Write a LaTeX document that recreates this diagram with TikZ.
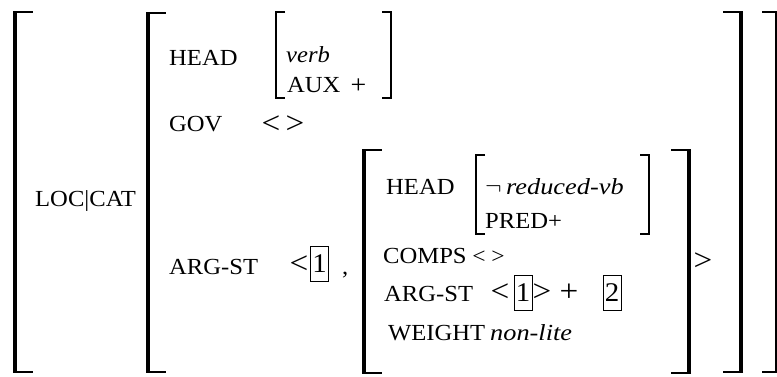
\documentclass[tikz,border=0pt]{standalone}
\usepackage{fontspec}
\setmainfont{Liberation Serif}[FakeStretch=1.07]
\usetikzlibrary{calc}

\tikzset{
	feat/.style={anchor=base west, inner sep=0pt, font=\fontsize{23}{27}\selectfont},
	angle/.style={anchor=center, inner sep=0pt, font=\fontsize{31}{31}\selectfont},
	smallangle/.style={anchor=center, inner sep=0pt, font=\fontsize{22}{22}\selectfont},
	tagbox/.style={draw, line width=1pt, minimum width=18pt, minimum height=35pt, inner sep=0pt, font=\fontsize{27}{30}\selectfont},
}

\begin{document}
\begin{tikzpicture}[x=1pt, y=-1pt]
		
		\useasboundingbox (0,0) rectangle (777,377);
		
		% big brackets: x / top / bottom / serif
		\foreach \x/\t/\b/\s in {15/12/372/18, 148/13/372/18, 364/150/373/18} {
			\draw[line width=4.5pt] (\x,\t) -- (\x,\b);
			\draw[line width=1.8pt] (\x-2,\t) -- (\x+\s,\t);
			\draw[line width=1.8pt] (\x-2,\b) -- (\x+\s,\b);
		}
		\foreach \x/\t/\b/\s in {741/12/372/18, 777/12/372/15, 689/150/373/18} {
			\draw[line width=4.5pt] (\x,\t) -- (\x,\b);
			\draw[line width=1.8pt] (\x+2,\t) -- (\x-\s,\t);
			\draw[line width=1.8pt] (\x+2,\b) -- (\x-\s,\b);
		}
		
		% small brackets
		\foreach \x/\t/\b in {276/12/98, 476/155/234} {
			\draw[line width=1.6pt, line join=miter] (\x+9,\t) -- (\x,\t) -- (\x,\b) -- (\x+9,\b);
		}
		\foreach \x/\t/\b in {391/12/98, 649/155/234} {
			\draw[line width=1.6pt, line join=miter] (\x-9,\t) -- (\x,\t) -- (\x,\b) -- (\x-9,\b);
		}
		
		\node (loccat) at (35,207) [feat] {LOC|CAT};
		
		\node (head) at (169,66) [feat] {HEAD};
		\node (verb) at (286,63) [feat] {\textit{verb}};
		\node (aux) at (287,93) [feat] {AUX};
		\node (auxval) at (358.5,86) [smallangle, font=\fontsize{26}{26}\selectfont] {+};
		
		\node (gov) at (169,132) [feat] {GOV};
		\node (govlt) at (271,125) [angle] {<};
		\node (govgt) at (295,125) [angle] {>};
		
		\node (argst) at (169,274) [feat] {ARG-ST};
		\node (arglt) at (299,265) [angle] {<};
		\node (tag1) at (319.5,264) [tagbox] {1};
		\node (comma) at (342,274) [feat] {,};
		
		% inner avm
		\node (ihead) at (386,194) [feat] {HEAD};
		\node (neg) at (485,194) [feat] {$\neg$};
		\node (redvb) at (506,194) [feat] {\scalebox{1.07}[1]{\textit{reduced-vb}}};
		\node (pred) at (485,229) [feat] {PRED+};
		
		\node (comps) at (383,263) [feat] {COMPS};
		\node (compslt) at (479,257) [smallangle] {<};
		\node (compsgt) at (498,257) [smallangle] {>};
		
		\node (iargst) at (384,301) [feat] {ARG-ST};
		\node (iarglt) at (500,293) [angle] {<};
		\node (itag1) at (523,293) [tagbox] {1};
		\node (iarggt) at (542,293) [angle] {>};
		\node (plus) at (569,293) [angle] {+};
		\node (itag2) at (612,293) [tagbox] {2};
		
		\node (weight) at (388,340) [feat] {WEIGHT};
		\node (nonlite) at (490,340) [feat] {\scalebox{1.07}[1]{\textit{non-lite}}};
		
		\node (close) at (703,262) [angle] {>};
		
	\end{tikzpicture}
\end{document}
